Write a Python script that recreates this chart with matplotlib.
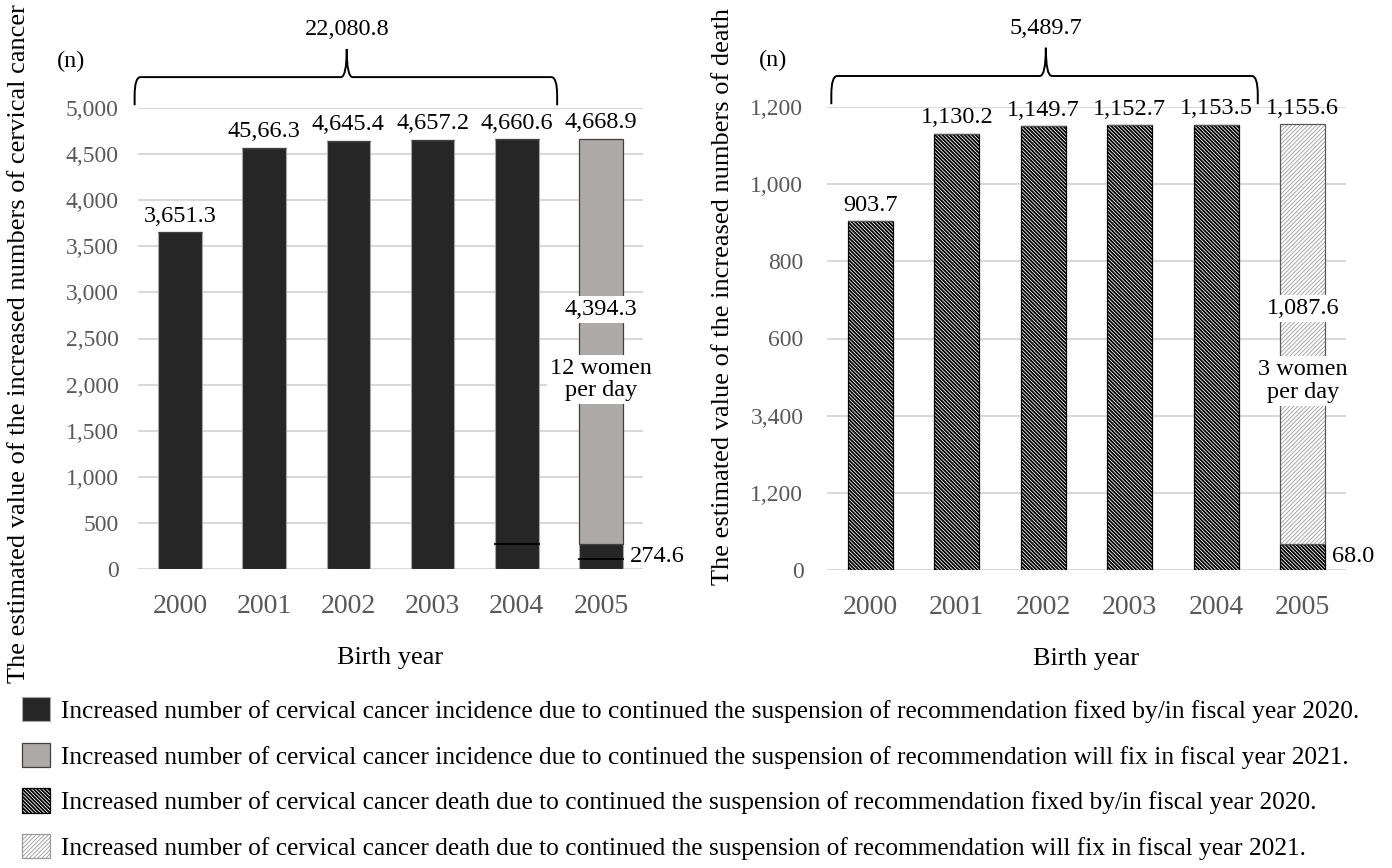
import matplotlib
matplotlib.use("Agg")
import matplotlib.pyplot as plt
import matplotlib.transforms as mtransforms
from matplotlib.path import Path
from matplotlib.patches import PathPatch, Patch
import numpy as np

# ---------------- data ----------------
years = ["2000", "2001", "2002", "2003", "2004", "2005"]

inc_fixed = [3651.3, 4566.3, 4645.4, 4657.2, 4660.6, 274.6]
inc_will = [0, 0, 0, 0, 0, 4394.3]
inc_top_labels = ["3,651.3", "45,66.3", "4,645.4", "4,657.2", "4,660.6", "4,668.9"]
inc_inner_lines = [None, None, None, None, 274.6, 110.0]
inc_total_label = "22,080.8"
inc_yticks = [0, 500, 1000, 1500, 2000, 2500, 3000, 3500, 4000, 4500, 5000]
inc_yticklabels = ["0", "500", "1,000", "1,500", "2,000", "2,500", "3,000",
                   "3,500", "4,000", "4,500", "5,000"]

death_fixed = [903.7, 1130.2, 1149.7, 1152.7, 1153.5, 68.0]
death_will = [0, 0, 0, 0, 0, 1087.6]
death_top_labels = ["903.7", "1,130.2", "1,149.7", "1,152.7", "1,153.5", "1,155.6"]
death_total_label = "5,489.7"
death_yticks = [0, 200, 400, 600, 800, 1000, 1200]
death_yticklabels = ["0", "1,200", "3,400", "600", "800", "1,000", "1,200"]

legend_labels = [
    "Increased number of cervical cancer incidence due to continued the suspension of recommendation fixed by/in fiscal year 2020.",
    "Increased number of cervical cancer incidence due to continued the suspension of recommendation will fix in fiscal year 2021.",
    "Increased number of cervical cancer death due to continued the suspension of recommendation fixed by/in fiscal year 2020.",
    "Increased number of cervical cancer death due to continued the suspension of recommendation will fix in fiscal year 2021.",
]

# ---------------- style ----------------
plt.rcParams["font.family"] = ["Liberation Serif", "DejaVu Serif"]
FS = 17.5        # data labels
FS_YT = 17       # y tick labels
FS_XT = 20       # x tick labels
FS_LAB = 19      # axis labels
FS_LEG = 18.3    # legend
TICK_C = "#595959"
GRID_C = "#d9d9d9"
DARK = "#262626"
GREY = "#aeaaaa"
DARK_HATCH = "\\" * 9
LIGHT_HATCH = "/" * 8

fig = plt.figure(figsize=(13.92, 8.68), dpi=100)
axL = fig.add_axes([138 / 1392, 1 - 569 / 868, 505 / 1392, 461 / 868])
axR = fig.add_axes([827 / 1392, 1 - 570 / 868, 519 / 1392, 463 / 868])

x = np.arange(len(years))
W = 0.52


def style_axis(ax, yticks, yticklabels, ymax, ypad):
    ax.set_xlim(-0.5, len(years) - 0.5)
    ax.set_ylim(0, ymax)
    for s in ax.spines.values():
        s.set_visible(False)
    ax.set_yticks(yticks)
    ax.set_yticklabels(yticklabels)
    ax.set_xticks(x)
    ax.set_xticklabels(years)
    ax.tick_params(axis="both", length=0, colors=TICK_C)
    ax.tick_params(axis="y", pad=ypad, labelsize=FS_YT)
    ax.tick_params(axis="x", pad=18, labelsize=FS_XT)
    ax.grid(axis="y", color=GRID_C, lw=1.5)
    ax.set_axisbelow(True)
    ax.set_xlabel("Birth year", fontsize=FS_LAB, labelpad=20, color="black")


def brace(ax, x0, x1, xm, yb, yh, yt, rx=0.07, ry=0.04):
    trans = mtransforms.blended_transform_factory(ax.transData, ax.transAxes)
    verts = [
        (x0, yb), (x0, yh - ry),
        (x0, yh), (x0 + rx, yh),
        (xm - rx, yh),
        (xm, yh), (xm, yt),
        (xm, yh), (xm + rx, yh),
        (x1 - rx, yh),
        (x1, yh), (x1, yh - ry),
        (x1, yb),
    ]
    codes = [Path.MOVETO, Path.LINETO,
             Path.CURVE3, Path.CURVE3,
             Path.LINETO,
             Path.CURVE3, Path.CURVE3,
             Path.CURVE3, Path.CURVE3,
             Path.LINETO,
             Path.CURVE3, Path.CURVE3,
             Path.LINETO]
    pp = PathPatch(Path(verts, codes), transform=trans, fill=False,
                   edgecolor="black", lw=1.4, clip_on=False)
    ax.add_patch(pp)


def set_hlw(patches, lw):
    for p in patches:
        if hasattr(p, "set_hatch_linewidth"):
            p.set_hatch_linewidth(lw)


bb = dict(boxstyle="square,pad=0.12", fc="white", ec="none")

# ---------------- left chart ----------------
style_axis(axL, inc_yticks, inc_yticklabels, 5000, 14)
axL.bar(x, inc_fixed, W, color=DARK, edgecolor="#a6a6a6", lw=0.8, zorder=2)
axL.bar(x, inc_will, W, bottom=inc_fixed, color=GREY, edgecolor="#404040",
        lw=0.9, zorder=2)
for i, v in enumerate(inc_inner_lines):
    if v is not None:
        axL.plot([x[i] - W / 2, x[i] + W / 2], [v, v], color="black", lw=1.3, zorder=3)
tops = np.array(inc_fixed) + np.array(inc_will)
for i, lab in enumerate(inc_top_labels):
    axL.annotate(lab, (x[i], tops[i]), xytext=(0, 4), textcoords="offset points",
                 ha="center", va="bottom", fontsize=FS, color="black")
axL.text(x[5], 2815, "4,394.3", ha="center", va="center", fontsize=FS, bbox=bb, zorder=4)
axL.text(x[5], 2055, "12 women\nper day", ha="center", va="center", fontsize=FS,
         bbox=bb, linespacing=1.1, zorder=4)
axL.annotate("274.6", (x[5] + W / 2, inc_fixed[5] / 2), xytext=(5, 0),
             textcoords="offset points", ha="left", va="center", fontsize=FS)
axL.set_ylabel("The estimated value of the increased numbers of cervical cancer",
               fontsize=FS_LAB, color="black")
axL.yaxis.set_label_coords(-0.214, 0.49)
brace(axL, -0.54, 4.48, 1.98, 1.006, 1.067, 1.128)
axL.text(1.98, 1.17, inc_total_label, transform=mtransforms.blended_transform_factory(
    axL.transData, axL.transAxes), ha="center", va="center", fontsize=FS)
axL.text(-0.133, 1.10, "(n)", transform=axL.transAxes, ha="center", va="center",
         fontsize=FS)

# ---------------- right chart ----------------
style_axis(axR, death_yticks, death_yticklabels, 1200, 17)
with plt.rc_context({"hatch.linewidth": 1.3}):
    bars_d = axR.bar(x, death_fixed, W, color="white", edgecolor="black",
                     hatch=DARK_HATCH, lw=0.9, zorder=2)
set_hlw(bars_d, 1.3)
with plt.rc_context({"hatch.linewidth": 0.6}):
    bars_w = axR.bar(x, death_will, W, bottom=death_fixed, color="white",
                     edgecolor="#9a9a9a", hatch=LIGHT_HATCH, lw=0.0, zorder=2)
set_hlw(bars_w, 0.6)
axR.bar(x, death_will, W, bottom=death_fixed, fill=False, edgecolor="#595959",
        lw=0.9, zorder=3)
dtops = np.array(death_fixed) + np.array(death_will)
for i, lab in enumerate(death_top_labels):
    axR.annotate(lab, (x[i], dtops[i]), xytext=(0, 4), textcoords="offset points",
                 ha="center", va="bottom", fontsize=FS, color="black")
axR.text(x[5], 677, "1,087.6", ha="center", va="center", fontsize=FS, bbox=bb, zorder=4)
axR.text(x[5], 490, "3 women\nper day", ha="center", va="center", fontsize=FS,
         bbox=bb, linespacing=1.1, zorder=4)
axR.annotate("68.0", (x[5] + W / 2, death_fixed[5] / 2), xytext=(5, 0),
             textcoords="offset points", ha="left", va="center", fontsize=FS)
axR.set_ylabel("The estimated value of the increased numbers of death",
               fontsize=FS_LAB, color="black")
axR.yaxis.set_label_coords(-0.18, 0.59)
brace(axR, -0.45, 4.48, 2.03, 1.006, 1.067, 1.128)
axR.text(2.03, 1.17, death_total_label, transform=mtransforms.blended_transform_factory(
    axR.transData, axR.transAxes), ha="center", va="center", fontsize=FS)
axR.text(-0.104, 1.10, "(n)", transform=axR.transAxes, ha="center", va="center",
         fontsize=FS)

# ---------------- legend ----------------
h1 = Patch(facecolor=DARK, edgecolor="#a6a6a6", lw=0.8)
h2 = Patch(facecolor=GREY, edgecolor="#404040", lw=0.9)
with plt.rc_context({"hatch.linewidth": 1.3}):
    h3 = Patch(facecolor="white", edgecolor="black", hatch=DARK_HATCH, lw=0.9)
with plt.rc_context({"hatch.linewidth": 0.6}):
    h4 = Patch(facecolor="white", edgecolor="#9a9a9a", hatch=LIGHT_HATCH, lw=0.9)
leg = fig.legend([h1, h2, h3, h4], legend_labels, loc="upper left",
                 bbox_to_anchor=(22 / 1392, 1 - 697 / 868), frameon=False,
                 fontsize=FS_LEG, handlelength=1.1, handleheight=1.1,
                 handletextpad=0.45, labelspacing=0.78, borderaxespad=0,
                 borderpad=0)
set_hlw([leg.legend_handles[2]], 1.3)
set_hlw([leg.legend_handles[3]], 0.6)

fig.savefig("out.png", dpi=100)
